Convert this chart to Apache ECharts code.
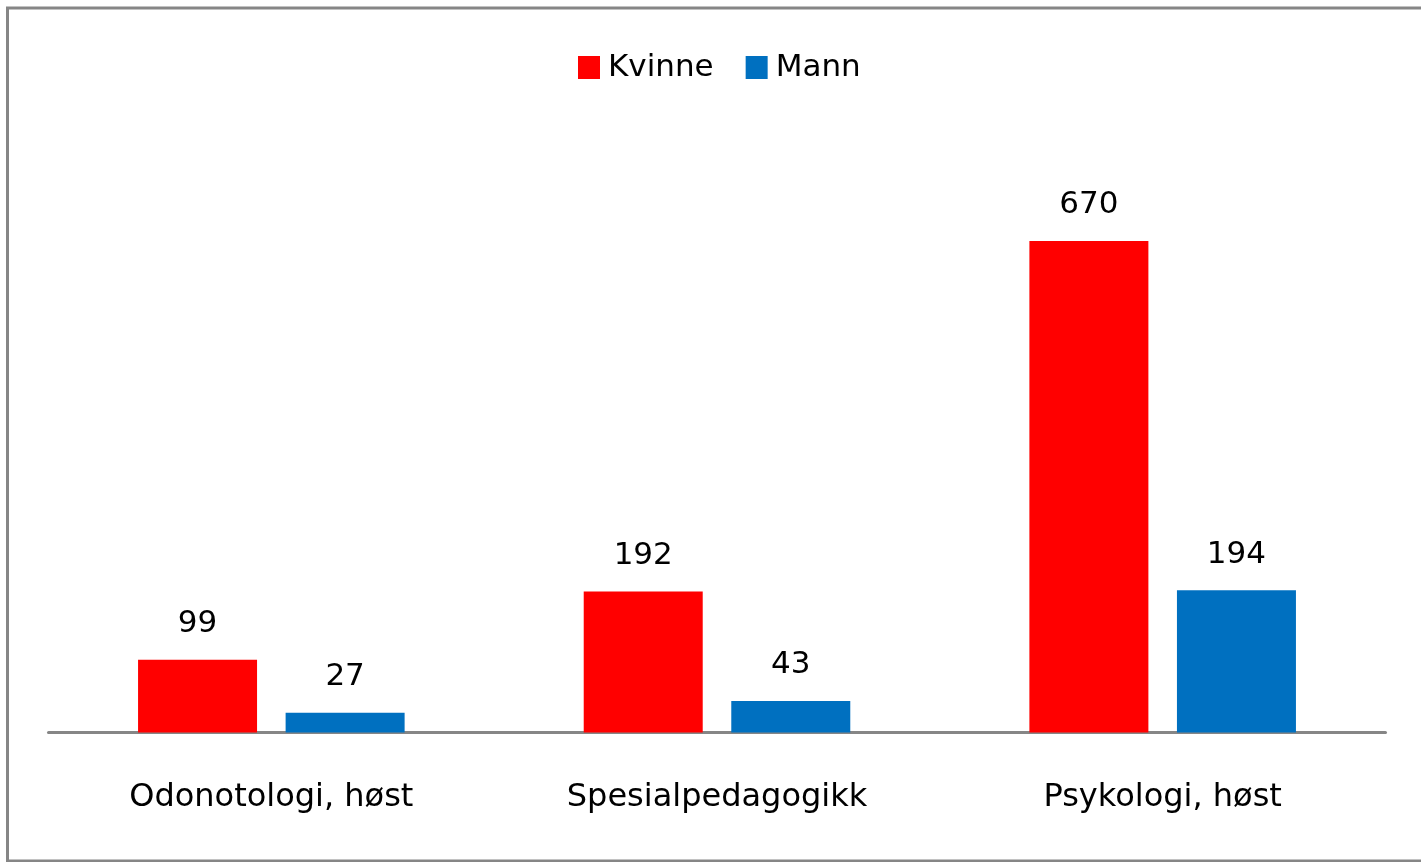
<!DOCTYPE html>
<html>
<head>
<meta charset="utf-8">
<script src="https://cdn.jsdelivr.net/npm/echarts@6/dist/echarts.min.js"></script>
<style>
  html, body { margin: 0; padding: 0; background: #fff; }
  #chart { width: 1421px; height: 862px; }
</style>
</head>
<body>
<div id="chart"></div>
<script>
// categories and values
var categories = ['Odonotologi, høst', 'Spesialpedagogikk', 'Psykologi, høst']
var kvinne = [99, 192, 670]
var mann = [27, 43, 194]

var font = 'DejaVu Sans'
var chart = echarts.init(document.getElementById('chart'))
chart.setOption({
  animation: false,
  color: ['#ff0000', '#0070c0'],
  graphic: [
    {
      type: 'rect',
      shape: { x: 7.5, y: 8, width: 1500, height: 853 },
      style: { fill: 'none', stroke: '#868686', lineWidth: 3 },
      silent: true
    }
  ],
  legend: {
    left: 573,
    top: 47,
    icon: 'rect',
    itemWidth: 22,
    itemHeight: 23,
    itemGap: 32,
    textStyle: {
      fontFamily: font,
      fontSize: 31,
      color: '#000',
      padding: [0, 0, 0, 3]
    },
    data: ['Kvinne', 'Mann']
  },
  grid: {
    left: 48.5,
    right: 35.5,
    top: 145.5,
    bottom: 129.5
  },
  xAxis: {
    type: 'category',
    data: categories,
    axisLine: { lineStyle: { color: '#868686', width: 3 } },
    axisTick: { show: false },
    axisLabel: {
      fontFamily: font,
      fontSize: 32,
      color: '#000',
      margin: 49
    }
  },
  yAxis: {
    type: 'value',
    min: 0,
    max: 800,
    show: false,
    splitLine: { show: false }
  },
  series: [
    {
      name: 'Kvinne',
      type: 'bar',
      data: kvinne,
      barWidth: 119,
      barGap: '24%',
      label: {
        show: true,
        position: 'top',
        distance: 20,
        fontFamily: font,
        fontSize: 31,
        color: '#000'
      }
    },
    {
      name: 'Mann',
      type: 'bar',
      data: mann,
      barWidth: 119,
      barGap: '24%',
      label: {
        show: true,
        position: 'top',
        distance: 20,
        fontFamily: font,
        fontSize: 31,
        color: '#000'
      }
    }
  ]
})
</script>
</body>
</html>
